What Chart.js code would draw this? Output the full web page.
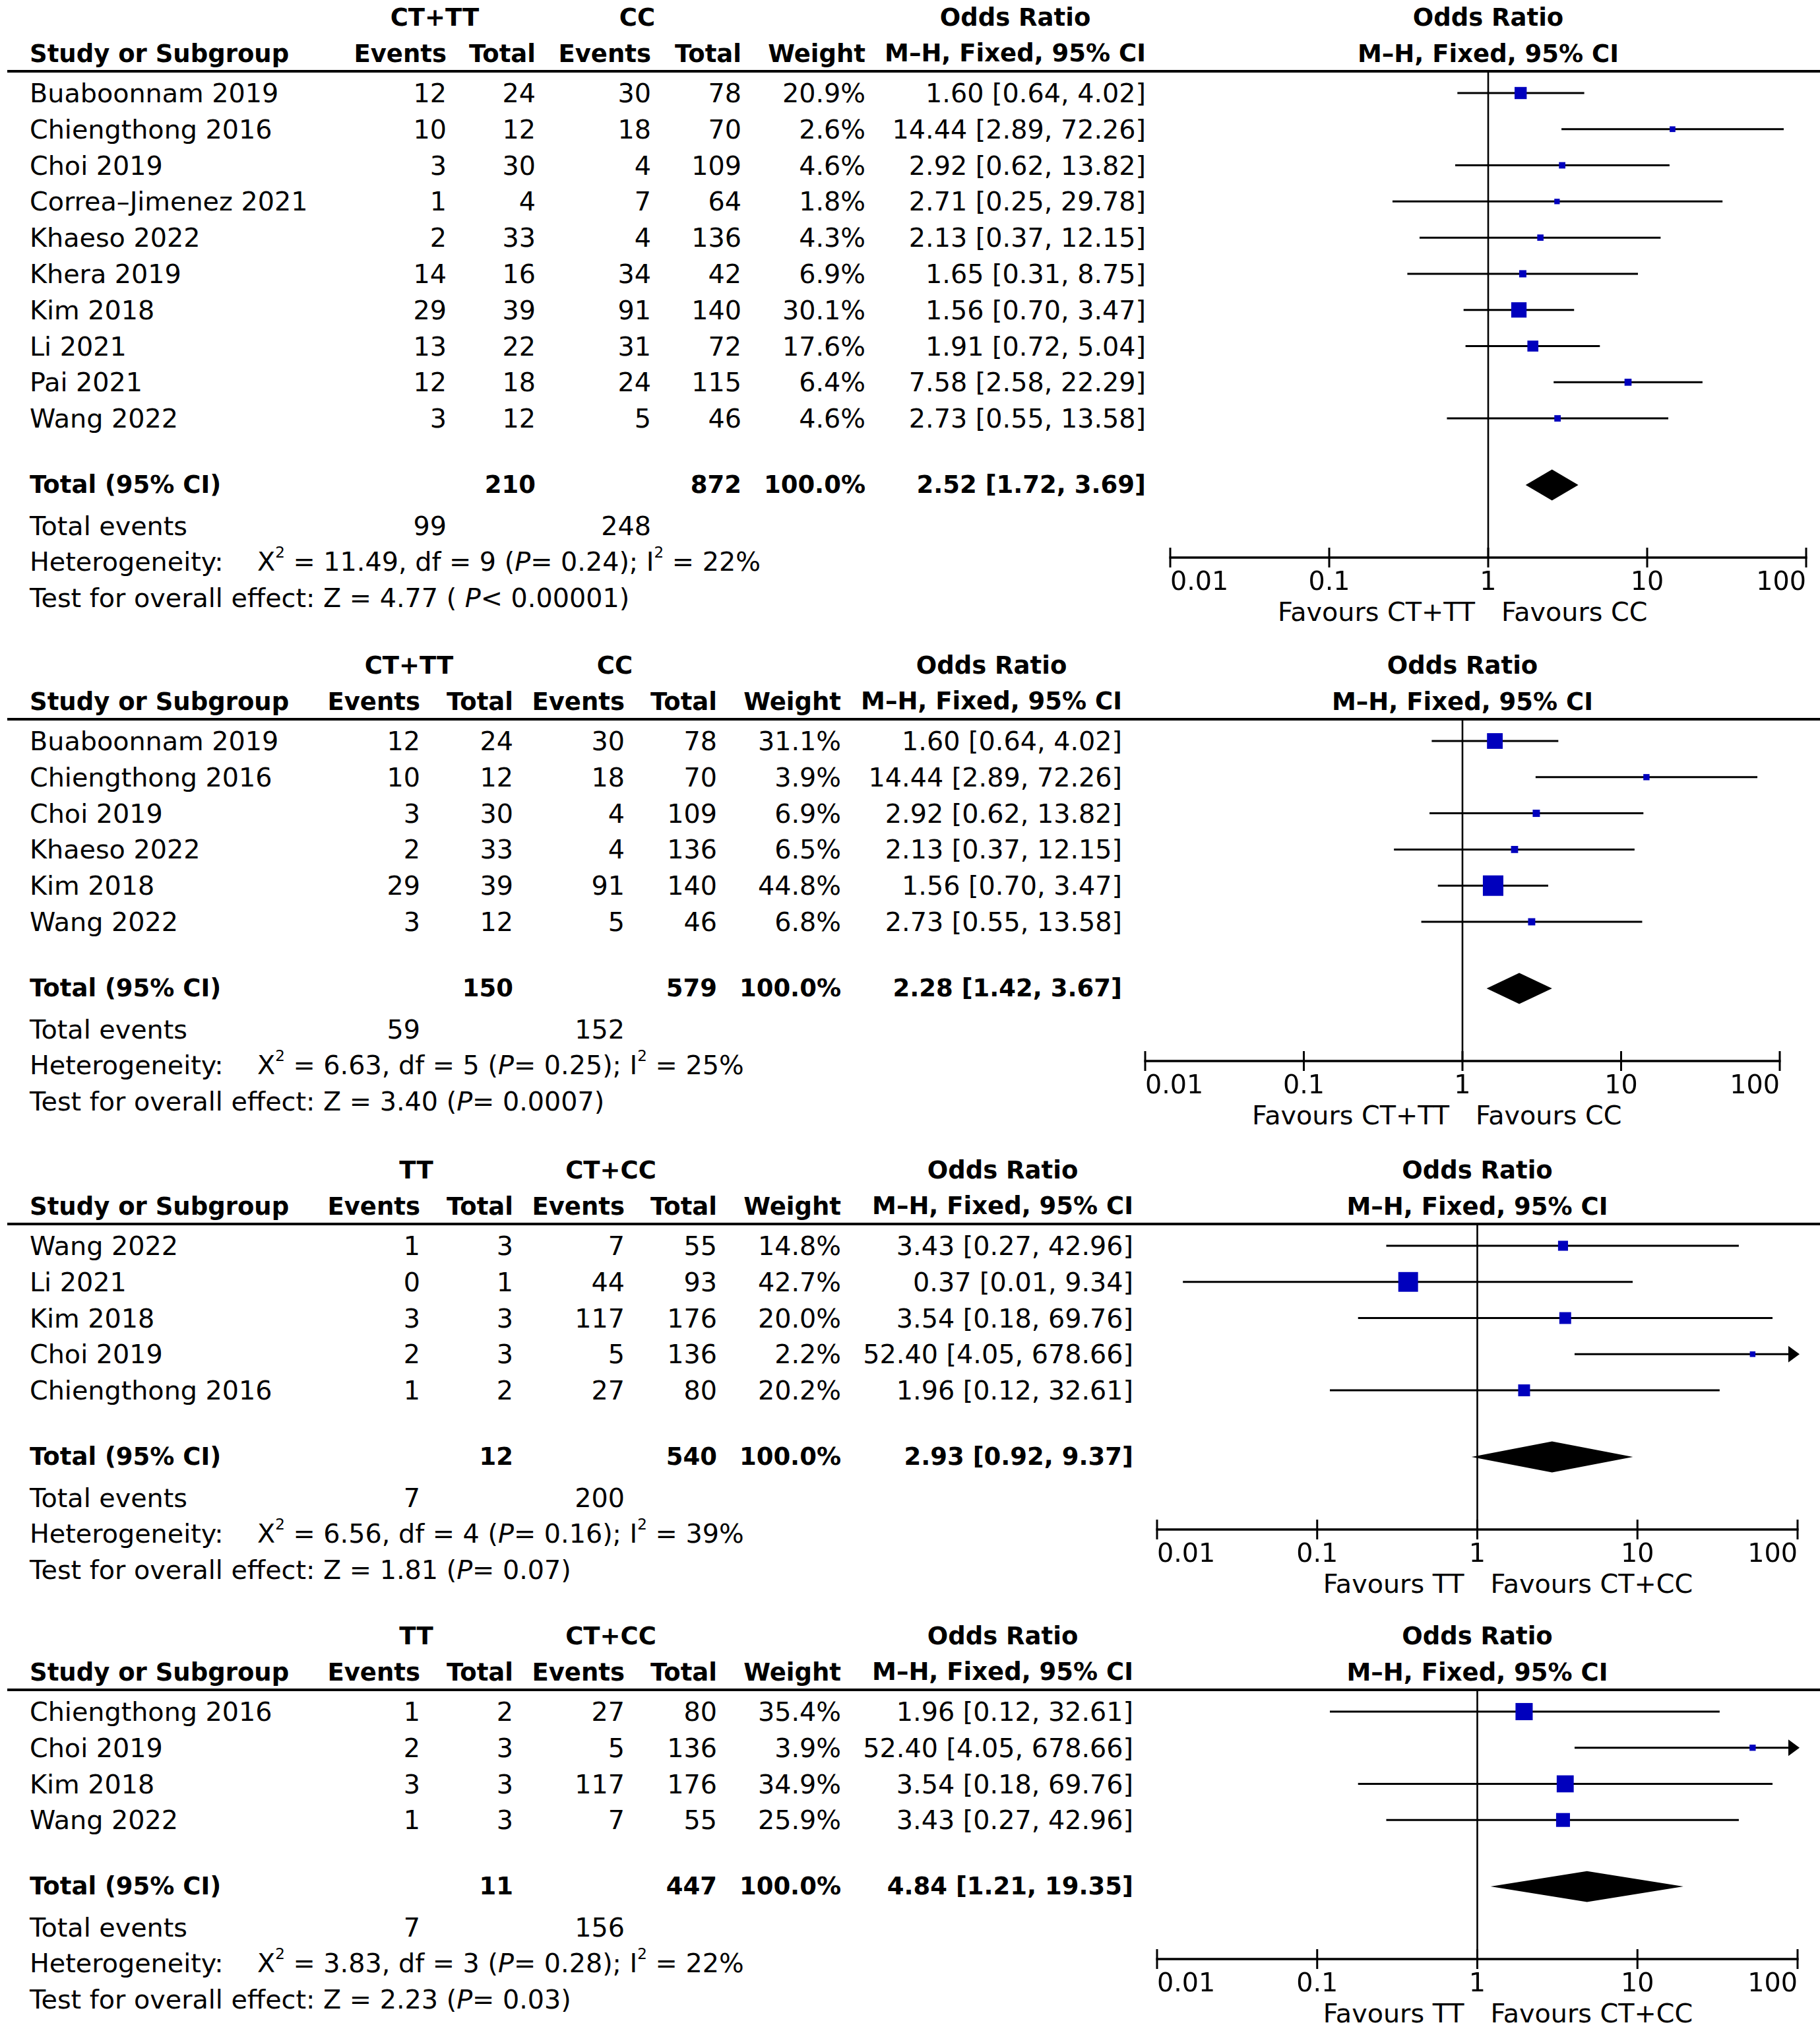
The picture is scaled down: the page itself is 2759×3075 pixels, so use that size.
<!DOCTYPE html>
<html><head><meta charset="utf-8">
<script src="https://cdn.jsdelivr.net/npm/chart.js@4.4.1/dist/chart.umd.min.js"></script>
<style>
html,body{margin:0;padding:0;background:#fff;}
#page{position:relative;width:2759px;height:3075px;overflow:hidden;font-family:"DejaVu Sans",sans-serif;color:#000;background:#fff;}
.t{position:absolute;white-space:nowrap;font-size:39.7px;line-height:50px;height:50px;}
.b{font-weight:bold;font-size:37px;}
.r{text-align:right;}
.c{text-align:center;}
.hdr{position:absolute;white-space:nowrap;font-weight:bold;font-size:37px;line-height:54.5px;text-align:center;}
canvas{position:absolute;}
.hl{position:absolute;background:#000;height:4px;}
sup{font-size:58%;line-height:0;vertical-align:0.85em;}
</style></head><body><div id="page"></div>
<script>
// ---------- DATA ----------
const tickVals = [0.01, 0.1, 1, 10, 100];
const tickLabels = ["0.01", "0.1", "1", "10", "100"];

// Panel 1: CT+TT vs CC
const p1Groups = ["CT+TT", "CC"];
const p1Favours = ["Favours CT+TT", "Favours CC"];
const p1Studies = ["Buaboonnam 2019", "Chiengthong 2016", "Choi 2019", "Correa\u2013Jimenez 2021", "Khaeso 2022", "Khera 2019", "Kim 2018", "Li 2021", "Pai 2021", "Wang 2022"];
const p1E1 = [12, 10, 3, 1, 2, 14, 29, 13, 12, 3];
const p1N1 = [24, 12, 30, 4, 33, 16, 39, 22, 18, 12];
const p1E2 = [30, 18, 4, 7, 4, 34, 91, 31, 24, 5];
const p1N2 = [78, 70, 109, 64, 136, 42, 140, 72, 115, 46];
const p1W = [20.9, 2.6, 4.6, 1.8, 4.3, 6.9, 30.1, 17.6, 6.4, 4.6];
const p1OR = [1.60, 14.44, 2.92, 2.71, 2.13, 1.65, 1.56, 1.91, 7.58, 2.73];
const p1Lo = [0.64, 2.89, 0.62, 0.25, 0.37, 0.31, 0.70, 0.72, 2.58, 0.55];
const p1Hi = [4.02, 72.26, 13.82, 29.78, 12.15, 8.75, 3.47, 5.04, 22.29, 13.58];
const p1Total = [210, 872];
const p1Events = [99, 248];
const p1Pooled = [2.52, 1.72, 3.69];
const p1Het = ["11.49", "9", "0.24", "22"];
const p1Test = ["4.77", "( ", "<", "0.00001"];

// Panel 2: CT+TT vs CC (subset)
const p2Groups = ["CT+TT", "CC"];
const p2Favours = ["Favours CT+TT", "Favours CC"];
const p2Studies = ["Buaboonnam 2019", "Chiengthong 2016", "Choi 2019", "Khaeso 2022", "Kim 2018", "Wang 2022"];
const p2E1 = [12, 10, 3, 2, 29, 3];
const p2N1 = [24, 12, 30, 33, 39, 12];
const p2E2 = [30, 18, 4, 4, 91, 5];
const p2N2 = [78, 70, 109, 136, 140, 46];
const p2W = [31.1, 3.9, 6.9, 6.5, 44.8, 6.8];
const p2OR = [1.60, 14.44, 2.92, 2.13, 1.56, 2.73];
const p2Lo = [0.64, 2.89, 0.62, 0.37, 0.70, 0.55];
const p2Hi = [4.02, 72.26, 13.82, 12.15, 3.47, 13.58];
const p2Total = [150, 579];
const p2Events = [59, 152];
const p2Pooled = [2.28, 1.42, 3.67];
const p2Het = ["6.63", "5", "0.25", "25"];
const p2Test = ["3.40", "(", "=", "0.0007"];

// Panel 3: TT vs CT+CC
const p3Groups = ["TT", "CT+CC"];
const p3Favours = ["Favours TT", "Favours CT+CC"];
const p3Studies = ["Wang 2022", "Li 2021", "Kim 2018", "Choi 2019", "Chiengthong 2016"];
const p3E1 = [1, 0, 3, 2, 1];
const p3N1 = [3, 1, 3, 3, 2];
const p3E2 = [7, 44, 117, 5, 27];
const p3N2 = [55, 93, 176, 136, 80];
const p3W = [14.8, 42.7, 20.0, 2.2, 20.2];
const p3OR = [3.43, 0.37, 3.54, 52.40, 1.96];
const p3Lo = [0.27, 0.0145, 0.18, 4.05, 0.12];
const p3Hi = [42.96, 9.34, 69.76, 678.66, 32.61];
const p3Total = [12, 540];
const p3Events = [7, 200];
const p3Pooled = [2.93, 0.92, 9.37];
const p3Het = ["6.56", "4", "0.16", "39"];
const p3Test = ["1.81", "(", "=", "0.07"];

// Panel 4: TT vs CT+CC (subset)
const p4Groups = ["TT", "CT+CC"];
const p4Favours = ["Favours TT", "Favours CT+CC"];
const p4Studies = ["Chiengthong 2016", "Choi 2019", "Kim 2018", "Wang 2022"];
const p4E1 = [1, 2, 3, 1];
const p4N1 = [2, 3, 3, 3];
const p4E2 = [27, 5, 117, 7];
const p4N2 = [80, 136, 176, 55];
const p4W = [35.4, 3.9, 34.9, 25.9];
const p4OR = [1.96, 52.40, 3.54, 3.43];
const p4Lo = [0.12, 4.05, 0.18, 0.27];
const p4Hi = [32.61, 678.66, 69.76, 42.96];
const p4Total = [11, 447];
const p4Events = [7, 156];
const p4Pooled = [4.84, 1.21, 19.35];
const p4Het = ["3.83", "3", "0.28", "22"];
const p4Test = ["2.23", "(", "=", "0.03"];

// ---------- LAYOUT (positions only) ----------
const L1 = {lineY:108, e1R:677, n1R:812, e2R:987, n2R:1124, wR:1312, orR:1737, g1:659, g2:966, x001:1774, x100:2738};
const L2 = {lineY:1090, e1R:637, n1R:778, e2R:947, n2R:1087, wR:1275, orR:1701, g1:620, g2:932, x001:1736, x100:2698};
const L3 = {lineY:1855, e1R:637, n1R:778, e2R:947, n2R:1087, wR:1275, orR:1718, g1:631, g2:926, x001:1754, x100:2725};
const L4 = {lineY:2561, e1R:637, n1R:778, e2R:947, n2R:1087, wR:1275, orR:1718, g1:631, g2:926, x001:1754, x100:2725};
const ROW = 54.8, LEFT = 45;

const page = document.getElementById('page');
function txt(html, x, y, align, bold) {
  const d = document.createElement('div');
  d.className = 't' + (bold ? ' b' : '');
  d.innerHTML = html;
  d.style.top = (y - 25) + 'px';
  if (align === 'r') { d.classList.add('r'); d.style.left = (x - 1200) + 'px'; d.style.width = '1200px'; }
  else if (align === 'c') { d.classList.add('c'); d.style.left = (x - 1000) + 'px'; d.style.width = '2000px'; }
  else { d.style.left = x + 'px'; }
  page.appendChild(d);
}
const fmt = v => v.toFixed(2);
const ciText = (o, l, h) => fmt(o) + ' [' + fmt(l) + ', ' + fmt(h) + ']';

const forestPlugin = {
  id: 'forest',
  beforeDatasetsDraw(chart) {
    const {ctx, chartArea: a, scales: {x}} = chart;
    const px = x.getPixelForValue(1);
    ctx.save(); ctx.strokeStyle = '#000'; ctx.lineWidth = 2.6;
    ctx.beginPath(); ctx.moveTo(px, a.top); ctx.lineTo(px, a.bottom); ctx.stroke();
    ctx.restore();
  },
  afterDraw(chart) {
    const {ctx, chartArea: a, scales: {x, y}} = chart;
    const x0 = x.getPixelForValue(tickVals[0]), x1 = x.getPixelForValue(tickVals[tickVals.length - 1]);
    const ay = a.bottom;
    ctx.save(); ctx.strokeStyle = '#000'; ctx.fillStyle = '#000';
    ctx.lineWidth = 3.5;
    ctx.beginPath(); ctx.moveTo(x0 - 1.5, ay); ctx.lineTo(x1 + 1.5, ay); ctx.stroke();
    ctx.lineWidth = 3;
    tickVals.forEach(v => { const p = x.getPixelForValue(v); ctx.beginPath(); ctx.moveTo(p, ay - 15); ctx.lineTo(p, ay + 15); ctx.stroke(); });
    chart.data.datasets.forEach(ds => {
      if (!ds.ci) return;
      const yp = y.getPixelForValue(ds.data[0].y);
      if (ds.data[1].x > x.max) {
        ctx.beginPath(); ctx.moveTo(x1 + 3, yp); ctx.lineTo(x1 - 14, yp - 12.5); ctx.lineTo(x1 - 14, yp + 12.5); ctx.closePath(); ctx.fill();
      }
      if (ds.data[0].x < x.min) {
        ctx.beginPath(); ctx.moveTo(x0 - 3, yp); ctx.lineTo(x0 + 14, yp - 12.5); ctx.lineTo(x0 + 14, yp + 12.5); ctx.closePath(); ctx.fill();
      }
    });
    ctx.restore();
  }
};

function panel(P, L) {
  const n = P.studies.length;
  const top = L.lineY;
  const h1 = top - 81, h2 = top - 26;
  // headers
  txt(P.groups[0], L.g1, h1, 'c', true);
  txt(P.groups[1], L.g2, h1, 'c', true);
  txt('Study or Subgroup', LEFT, h2, 'l', true);
  txt('Events', L.e1R, h2, 'r', true);
  txt('Total', L.n1R, h2, 'r', true);
  txt('Events', L.e2R, h2, 'r', true);
  txt('Total', L.n2R, h2, 'r', true);
  txt('Weight', L.wR, h2, 'r', true);
  const hb = document.createElement('div');
  hb.className = 'hdr';
  hb.style.right = (2759 - L.orR) + 'px';
  hb.style.top = (h1 - 27.25) + 'px';
  hb.innerHTML = 'Odds Ratio<br>M\u2013H, Fixed, 95% CI';
  page.appendChild(hb);
  const xOne = L.x001 + (L.x100 - L.x001) / 2;
  txt('Odds Ratio', xOne, h1, 'c', true);
  txt('M\u2013H, Fixed, 95% CI', xOne, h2, 'c', true);
  const hl = document.createElement('div');
  hl.className = 'hl'; hl.style.left = '11px'; hl.style.width = '2748px'; hl.style.top = (top - 2) + 'px';
  page.appendChild(hl);
  // rows
  for (let i = 0; i < n; i++) {
    const yy = top + 33 + i * ROW;
    txt(P.studies[i], LEFT, yy, 'l');
    txt(String(P.e1[i]), L.e1R, yy, 'r');
    txt(String(P.n1[i]), L.n1R, yy, 'r');
    txt(String(P.e2[i]), L.e2R, yy, 'r');
    txt(String(P.n2[i]), L.n2R, yy, 'r');
    txt(P.w[i].toFixed(1) + '%', L.wR, yy, 'r');
    txt(ciText(P.or[i], P.lo[i], P.hi[i]), L.orR, yy, 'r');
  }
  const tot = top + 33 + (n - 1) * ROW + 101;
  txt('Total (95% CI)', LEFT, tot, 'l', true);
  txt(String(P.total[0]), L.n1R, tot, 'r', true);
  txt(String(P.total[1]), L.n2R, tot, 'r', true);
  txt('100.0%', L.wR, tot, 'r', true);
  txt(ciText(P.pooled[0], P.pooled[1], P.pooled[2]), L.orR, tot, 'r', true);
  txt('Total events', LEFT, tot + 62, 'l');
  txt(String(P.events[0]), L.e1R, tot + 62, 'r');
  txt(String(P.events[1]), L.e2R, tot + 62, 'r');
  txt('Heterogeneity:', LEFT, tot + 116, 'l');
  txt('\u03A7<sup>2</sup> = ' + P.het[0] + ', df = ' + P.het[1] + ' (<i>P</i>= ' + P.het[2] + '); I<sup>2</sup> = ' + P.het[3] + '%', 390, tot + 116, 'l');
  txt('Test for overall effect: Z = ' + P.test[0] + ' ' + P.test[1] + '<i>P</i>' + P.test[2] + ' ' + P.test[3] + ')', LEFT, tot + 171, 'l');
  const axisY = tot + 110;
  txt(P.favours[0], xOne - 20, axisY + 82, 'r');
  txt(P.favours[1], xOne + 20, axisY + 82, 'l');

  // chart
  const yMin = -33 / ROW;
  const yTot = (n - 1) + 101 / ROW;
  const yMax = yTot + 110 / ROW;
  const padX = 40, labH = 120;
  const W = (L.x100 - L.x001) + 2 * padX;
  const H = (axisY - top) + labH;
  const cv = document.createElement('canvas');
  cv.width = W; cv.height = H;
  cv.style.left = (L.x001 - padX) + 'px'; cv.style.top = top + 'px';
  cv.style.width = W + 'px'; cv.style.height = H + 'px';
  page.appendChild(cv);
  const datasets = [];
  for (let i = 0; i < n; i++) {
    datasets.push({type: 'line', ci: true, data: [{x: P.lo[i], y: i}, {x: P.hi[i], y: i}],
      borderColor: '#000', borderWidth: 3, pointRadius: 0, fill: false, order: 2});
  }
  datasets.push({type: 'scatter', data: P.or.map((v, i) => ({x: v, y: i})), pointStyle: 'rect',
    backgroundColor: '#0000bd', borderWidth: 0,
    pointRadius: c => (7.3 + 0.53 * P.w[c.dataIndex]) / Math.SQRT2, order: 1});
  const hd = 23.5 / ROW;
  const [po, pl, ph] = P.pooled;
  datasets.push({type: 'line', data: [{x: pl, y: yTot}, {x: po, y: yTot - hd}, {x: ph, y: yTot}, {x: po, y: yTot + hd}, {x: pl, y: yTot}],
    borderWidth: 0, borderColor: '#000', backgroundColor: '#000', pointRadius: 0, fill: 'shape', tension: 0, order: 0});
  new Chart(cv, {
    type: 'scatter',
    data: {datasets},
    options: {
      responsive: false, animation: false, devicePixelRatio: 1,
      layout: {autoPadding: false, padding: {left: padX, right: padX, top: 0, bottom: 0}},
      plugins: {legend: {display: false}, tooltip: {enabled: false}},
      events: [],
      scales: {
        x: {type: 'logarithmic', min: tickVals[0], max: tickVals[tickVals.length - 1], position: 'bottom',
          afterBuildTicks: sc => { sc.ticks = tickVals.map(v => ({value: v})); },
          afterFit: sc => { sc.height = labH; },
          grid: {display: false, drawTicks: false}, border: {display: false},
          ticks: {align: 'inner', padding: 15, color: '#000', autoSkip: false, maxRotation: 0,
            font: {family: 'DejaVu Sans', size: 39.7}, callback: (v, i) => tickLabels[i]}
        },
        y: {type: 'linear', min: yMin, max: yMax, reverse: true, display: false}
      }
    },
    plugins: [forestPlugin]
  });
}

panel({groups: p1Groups, favours: p1Favours, studies: p1Studies, e1: p1E1, n1: p1N1, e2: p1E2, n2: p1N2, w: p1W, or: p1OR, lo: p1Lo, hi: p1Hi, total: p1Total, events: p1Events, pooled: p1Pooled, het: p1Het, test: p1Test}, L1);
panel({groups: p2Groups, favours: p2Favours, studies: p2Studies, e1: p2E1, n1: p2N1, e2: p2E2, n2: p2N2, w: p2W, or: p2OR, lo: p2Lo, hi: p2Hi, total: p2Total, events: p2Events, pooled: p2Pooled, het: p2Het, test: p2Test}, L2);
panel({groups: p3Groups, favours: p3Favours, studies: p3Studies, e1: p3E1, n1: p3N1, e2: p3E2, n2: p3N2, w: p3W, or: p3OR, lo: p3Lo, hi: p3Hi, total: p3Total, events: p3Events, pooled: p3Pooled, het: p3Het, test: p3Test}, L3);
panel({groups: p4Groups, favours: p4Favours, studies: p4Studies, e1: p4E1, n1: p4N1, e2: p4E2, n2: p4N2, w: p4W, or: p4OR, lo: p4Lo, hi: p4Hi, total: p4Total, events: p4Events, pooled: p4Pooled, het: p4Het, test: p4Test}, L4);
</script></body></html>
